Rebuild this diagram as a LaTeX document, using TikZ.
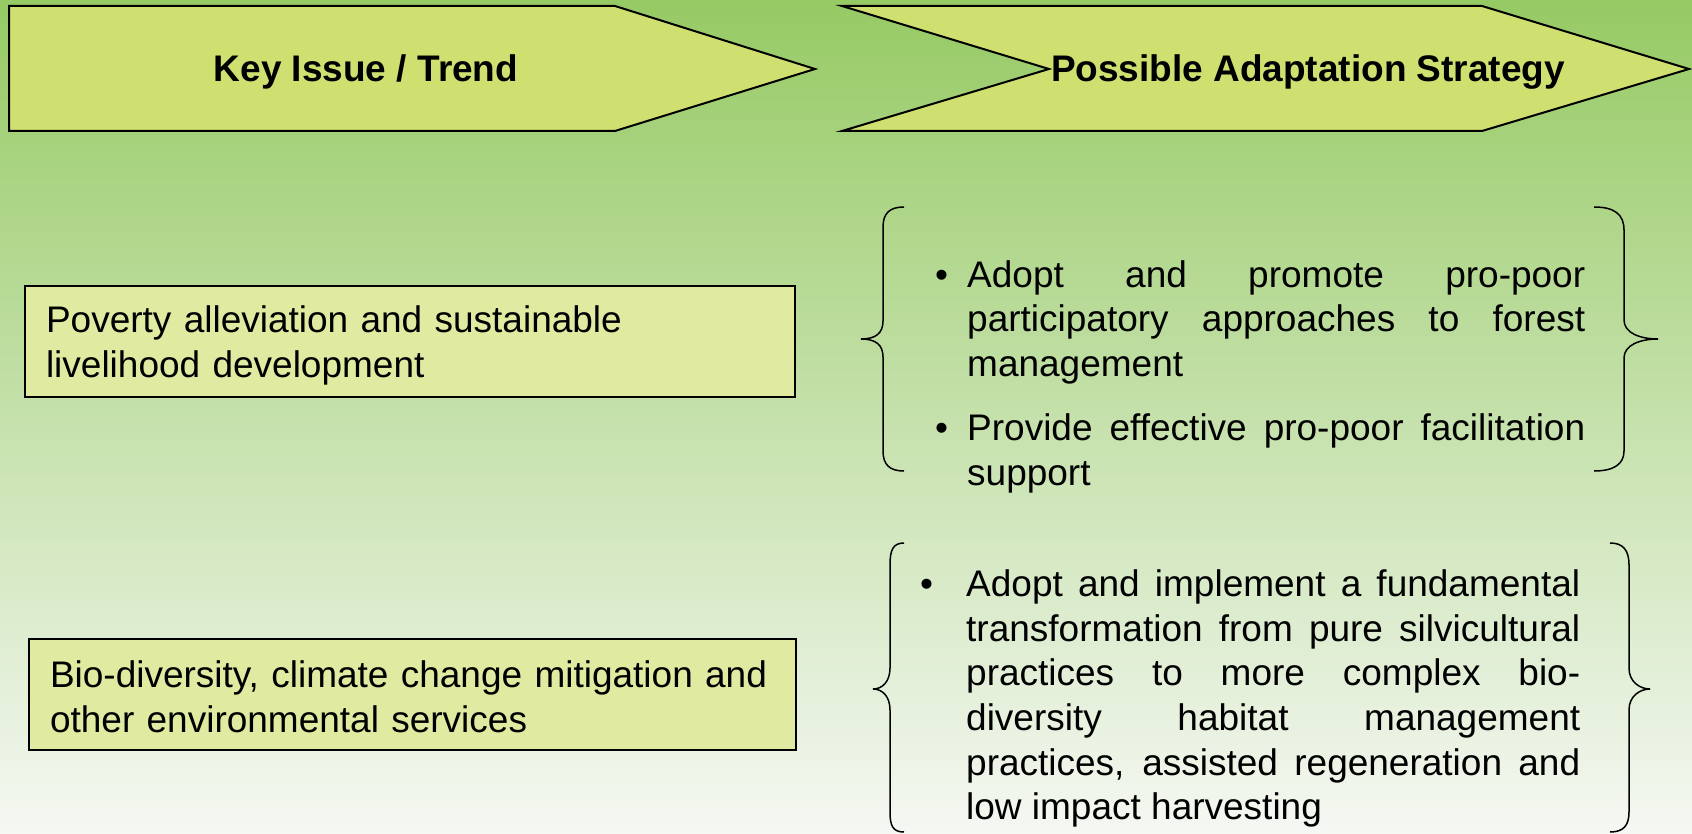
\documentclass[tikz,border=0pt]{standalone}
\usepackage{fontspec}
\setmainfont{Liberation Sans}
\usepackage{tikz}

\definecolor{bgtop}{RGB}{150,202,100}
\definecolor{bgbottom}{RGB}{245,248,243}
\definecolor{headfill}{RGB}{208,224,112}
\definecolor{boxfill}{RGB}{224,234,160}

\tolerance=10000
\hyphenpenalty=10000

\tikzset{
  headshape/.style={draw=black, fill=headfill, line width=2pt, line join=miter},
  headtext/.style={anchor=base, inner sep=0pt, font=\fontsize{37}{45}\selectfont\bfseries},
  issue/.style={draw=black, fill=boxfill, line width=1.6pt, minimum height=111pt,
    inner xsep=21pt, align=left, font=\fontsize{37}{45}\selectfont},
  strategy/.style={anchor=north west, inner sep=0pt, align=justify,
    font=\fontsize{37}{44.6}\selectfont},
  curl/.style={draw=black, line width=1.5pt},
}

% one bullet with hanging text; optional shift of the bullet
\newcommand{\bulletitem}[2][0pt]{\par\noindent\hangindent=46pt\hangafter=1\makebox[46pt][l]{\hspace{#1}\textbullet}#2\par}

\begin{document}
\begin{tikzpicture}[x=1pt, y=-1pt]
      \useasboundingbox (0,0) rectangle (1692,834);
      \shade[top color=bgtop, bottom color=bgbottom] (0,0) rectangle (1692,834);

      % column heads
      \draw[headshape] (9,6) -- (615,6) -- (815,69) -- (615,131) -- (9,131) -- cycle;
      \draw[headshape] (842,6) -- (1482,6) -- (1689,69) -- (1482,131) -- (842,131) -- (1049,69) -- cycle;
      \node[headtext] (keyissue) at (366,82) {Key Issue / Trend};
      \node[headtext] (strategyhead) at (1308,82) {Possible Adaptation Strategy};

      % issues
      \node[issue, text width=728pt] (poverty) at (410,341.5)
        {\rule{0pt}{35pt}Poverty alleviation and sustainable\\livelihood development};
      \node[issue, text width=725pt] (biodiv) at (412.5,694.5)
        {\rule{0pt}{31pt}Bio-diversity, climate change mitigation and\\other environmental services};

      % strategies
      \node[strategy, text width=664pt] (povertyplan) at (921,242.3)
        {\bulletitem[14pt]{\strut Adopt and promote pro-poor\linebreak participatory approaches to forest\linebreak management}
         \vspace{20pt}
         \bulletitem[14pt]{Provide effective pro-poor facilitation\linebreak support}};
      \node[strategy, text width=660pt] (biodivplan) at (920,551.8)
        {\bulletitem{\strut Adopt and implement a fundamental\linebreak transformation from pure silvicultural\linebreak practices to more complex bio-\linebreak diversity habitat management\linebreak practices, assisted regeneration and\linebreak low impact harvesting}};

      % braces round the first group
      \draw[curl] (904,207) .. controls (890,207) and (883,213) .. (883,227) -- (883,321)
        .. controls (883,333) and (876,339) .. (861,339) .. controls (876,339) and (883,345) .. (883,357)
        -- (883,451) .. controls (883,465) and (890,471) .. (904,471);
      \draw[curl] (1594,207) .. controls (1614,207) and (1624,214) .. (1624,230) -- (1624,320)
        .. controls (1624,333) and (1640,339) .. (1658,339) .. controls (1640,339) and (1624,345) .. (1624,358)
        -- (1624,451) .. controls (1624,464) and (1614,471) .. (1594,471);
      % braces round the second group
      \draw[curl] (904,543) .. controls (893,543) and (890,550) .. (890,565) -- (890,668)
        .. controls (890,682) and (882,689) .. (873,689) .. controls (882,689) and (890,696) .. (890,710)
        -- (890,812) .. controls (890,826) and (893,832) .. (904,832);
      \draw[curl] (1610,543) .. controls (1623,543) and (1629,550) .. (1629,565) -- (1629,668)
        .. controls (1629,682) and (1640,689) .. (1650,689) .. controls (1640,689) and (1629,696) .. (1629,710)
        -- (1629,812) .. controls (1629,826) and (1623,832) .. (1610,832);
\end{tikzpicture}
\end{document}
